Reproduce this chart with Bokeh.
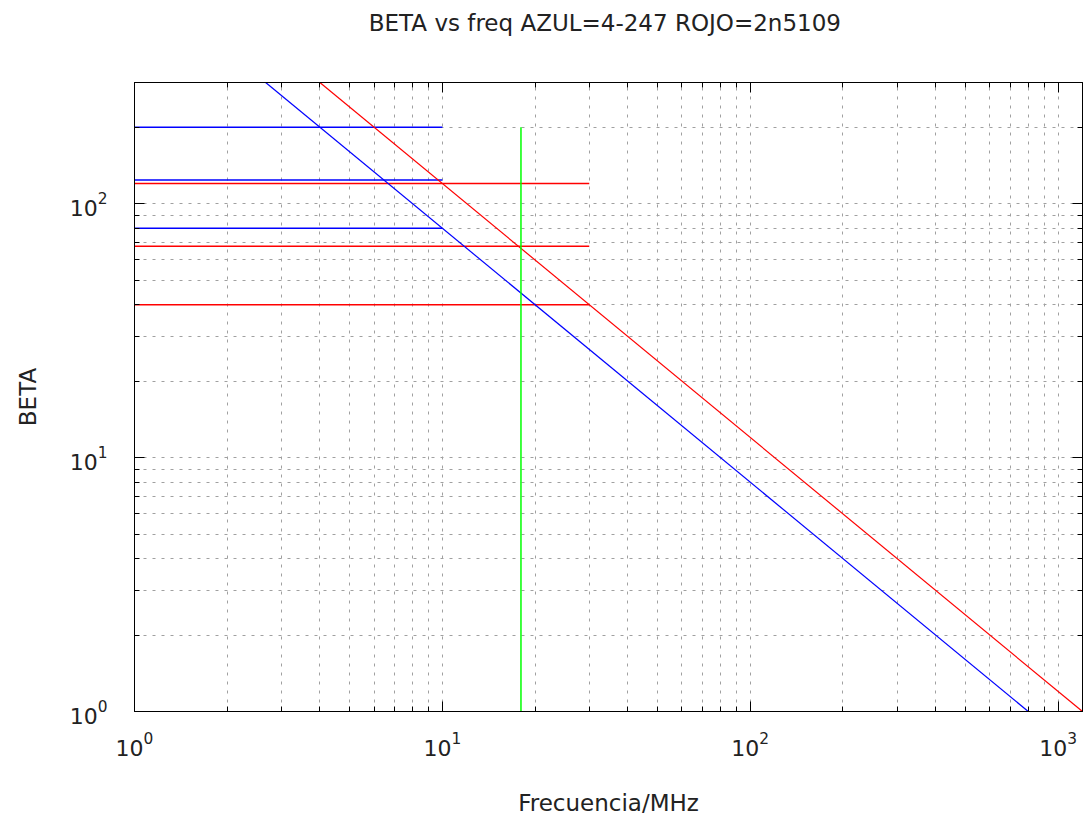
from bokeh.plotting import figure
from bokeh.models import LogAxis, FixedTicker, Range1d, CustomJSTickFormatter
from bokeh.embed import file_html
from bokeh.resources import INLINE

# ---- texts ----
title_text = "BETA vs freq  AZUL=4-247 ROJO=2n5109"
x_label = "Frecuencia/MHz"
y_label = "BETA"

# ---- ticks ----
x_major = [1, 10, 100, 1000]
x_minor = [m * d for d in (1, 10, 100) for m in range(2, 10)]
y_major = [1, 10, 100]
y_minor = [m * d for d in (1, 10) for m in range(2, 10)] + [200, 300]

# ---- data ----
# AZUL (4-247) beta roll-off line
blue_diag_f = [2.667, 800]
blue_diag_beta = [300, 1]
# ROJO (2n5109) beta roll-off line
red_diag_f = [4, 1200]
red_diag_beta = [300, 1]

# horizontal beta levels
blue_h_beta = [200, 124, 80]
blue_h_f0 = [1, 1, 1]
blue_h_f1 = [10, 10, 10]
red_h_beta = [120, 68, 40]
red_h_f0 = [1, 1, 1]
red_h_f1 = [30, 30, 30]

# operating frequency marker
green_f = [18, 18]
green_beta = [1, 200]

FONT = "DejaVu Sans"

p = figure(width=1086, height=821, x_axis_type="log", y_axis_type="log",
           x_range=Range1d(1, 1200), y_range=Range1d(1, 300),
           output_backend="svg", toolbar_location=None,
           min_border_left=134, min_border_right=3, min_border_top=81,
           min_border_bottom=110)

p.title.text = title_text
p.title.text_font = FONT
p.title.text_font_size = "23px"
p.title.text_font_style = "normal"
p.title.text_color = "#222222"
p.title.align = "center"
p.title.standoff = 15

p.outline_line_color = "black"
p.outline_line_width = 1
p.background_fill_color = "white"
p.border_fill_color = "white"

xt = FixedTicker(ticks=x_major, minor_ticks=x_minor)
yt = FixedTicker(ticks=y_major, minor_ticks=y_minor)

for ax, t in ((p.xaxis[0], xt), (p.yaxis[0], yt)):
    ax.ticker = t
    ax.major_tick_in = 10
    ax.major_tick_out = 0
    ax.minor_tick_in = 5
    ax.minor_tick_out = 0
    ax.axis_line_color = "black"
    ax.major_tick_line_color = "black"
    ax.minor_tick_line_color = "black"
    ax.major_label_text_font = FONT
    ax.major_label_text_font_size = "22px"
    ax.major_label_text_color = "#222222"
    ax.axis_label_text_font = FONT
    ax.axis_label_text_font_size = "23px"
    ax.axis_label_text_font_style = "normal"
    ax.axis_label_text_color = "#222222"

p.xaxis[0].axis_label = x_label
p.yaxis[0].axis_label = y_label
p.xaxis[0].major_label_standoff = 20
p.xaxis[0].axis_label_standoff = 31
p.yaxis[0].major_label_standoff = 27
p.yaxis[0].axis_label_standoff = 26

# mirrored ticks on top and right (no labels)
blank = CustomJSTickFormatter(code="return ' ';")
for loc, t, so in (("above", xt, 34), ("right", yt, 0)):
    ax = LogAxis(ticker=t, formatter=blank, major_tick_in=10, major_tick_out=0,
                 minor_tick_in=5, minor_tick_out=0,
                 major_label_text_font_size="2px", major_label_standoff=so,
                 axis_line_color="black", major_tick_line_color="black",
                 minor_tick_line_color="black")
    p.add_layout(ax, loc)

for g, t in ((p.xgrid[0], xt), (p.ygrid[0], yt)):
    g.ticker = t
    g.grid_line_color = "#a0a0a0"
    g.grid_line_dash = "3 6"
    g.grid_line_width = 1
    g.minor_grid_line_color = "#a0a0a0"
    g.minor_grid_line_dash = "3 6"
    g.minor_grid_line_width = 1

p.segment(x0=blue_h_f0, y0=blue_h_beta, x1=blue_h_f1, y1=blue_h_beta,
          line_color="#0000ff", line_width=1.5)
p.segment(x0=red_h_f0, y0=red_h_beta, x1=red_h_f1, y1=red_h_beta,
          line_color="#ff0000", line_width=1.5)
p.line(blue_diag_f, blue_diag_beta, line_color="#0000ff", line_width=1.2)
p.line(red_diag_f, red_diag_beta, line_color="#ff0000", line_width=1.2)
p.line(green_f, green_beta, line_color="#00ff00", line_width=1.5)

open("out.html", "w").write(file_html(p, INLINE))
